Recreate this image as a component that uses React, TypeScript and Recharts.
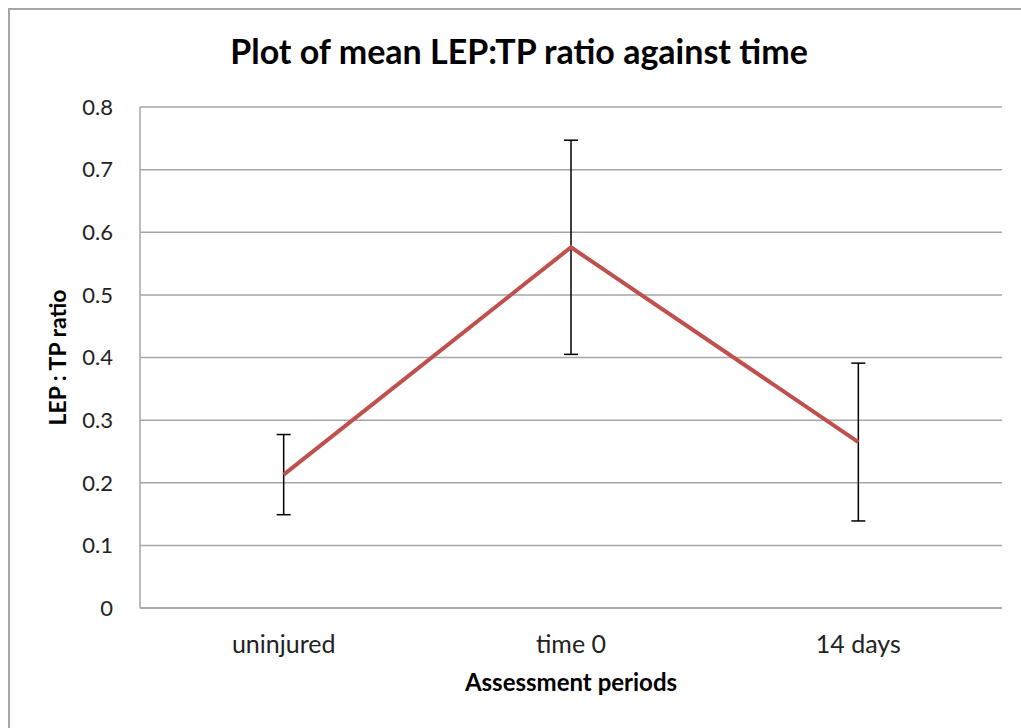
import { LineChart, Line, XAxis, YAxis, CartesianGrid, ErrorBar } from 'recharts';

const periods = ['uninjured', 'time 0', '14 days'];
const meanRatio = [0.213, 0.576, 0.265];
const errRatio = [0.064, 0.171, 0.126];
const yTicks = [0, 0.1, 0.2, 0.3, 0.4, 0.5, 0.6, 0.7, 0.8];

const data = periods.map((p, i) => ({ period: p, ratio: meanRatio[i], err: errRatio[i] }));

const FONT = 'Lato, "Open Sans", sans-serif';
const GRID = '#a6a6a6';

export default function App() {
  return (
    <div
      style={{
        position: 'fixed',
        left: 8,
        top: 8,
        width: 1013,
        height: 720,
        borderLeft: `2px solid ${GRID}`,
        borderTop: `2px solid ${GRID}`,
        background: '#fff',
        fontFamily: FONT,
      }}
    >
      <div
        style={{
          position: 'absolute',
          left: 0,
          top: 20,
          width: 1018,
          textAlign: 'center',
          fontSize: 34,
          fontWeight: 700,
          color: '#000',
        }}
      >
        Plot of mean LEP:TP ratio against time
      </div>
      <LineChart
        width={1011}
        height={718}
        data={data}
        margin={{ top: 97, right: 19, bottom: 0, left: 0 }}
        style={{ fontFamily: FONT }}
      >
        <CartesianGrid vertical={false} stroke={GRID} strokeWidth={1.5} />
        <XAxis
          dataKey="period"
          scale="band"
          height={120}
          tickLine={false}
          tickSize={0}
          tickMargin={27}
          axisLine={{ stroke: GRID, strokeWidth: 1.5 }}
          tick={{ fill: '#222', fontSize: 25 }}
          label={{
            value: 'Assessment periods',
            position: 'insideTop',
            offset: 66,
            fill: '#000',
            fontSize: 24,
            fontWeight: 700,
          }}
        />
        <YAxis
          width={130}
          domain={[0, 0.8]}
          ticks={yTicks}
          interval={0}
          tickLine={false}
          tickSize={0}
          tickMargin={27}
          axisLine={{ stroke: GRID, strokeWidth: 1.5 }}
          tick={{ fill: '#222', fontSize: 22 }}
          label={{
            value: 'LEP : TP ratio',
            angle: -90,
            position: 'insideLeft',
            offset: 48,
            textAnchor: 'middle',
            fill: '#000',
            fontSize: 23,
            fontWeight: 700,
          }}
        />
        <Line
          type="linear"
          dataKey="ratio"
          stroke="#c0504d"
          strokeWidth={4}
          dot={false}
          activeDot={false}
          isAnimationActive={false}
        >
          <ErrorBar dataKey="err" width={7} stroke="#000" strokeWidth={1.5} direction="y" isAnimationActive={false} />
        </Line>
      </LineChart>
    </div>
  );
}
